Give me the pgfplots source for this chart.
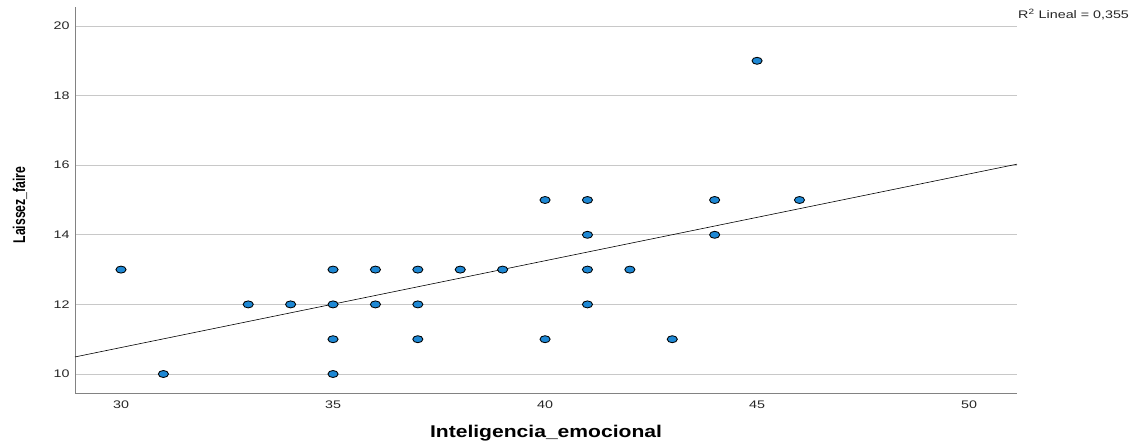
\documentclass[border=0pt]{standalone}
\usepackage{pgfplots}
\pgfplotsset{compat=1.18}
\usepackage{fontspec}
\setmainfont{Liberation Sans}
\definecolor{dotblue}{RGB}{30,136,212}
\definecolor{gridgray}{RGB}{200,200,200}
\definecolor{axgray}{RGB}{130,130,130}
\begin{document}
\begin{tikzpicture}
\useasboundingbox (0,0) rectangle (1135pt,440pt);
\begin{axis}[
  at={(75pt,47pt)}, anchor=south west,
  scale only axis, width=942pt, height=386pt,
  xmin=28.915, xmax=51.13, ymin=9.454, ymax=20.546,
  axis x line*=bottom, axis y line*=left,
  axis line style={axgray, line width=0.9pt},
  xtick={30,35,40,45,50}, ytick={10,12,14,16,18,20},
  major tick length=0pt,
  ymajorgrids, grid style={gridgray, line width=0.8pt},
  tick label style={font=\fontsize{11}{13}\selectfont, text=black!85},
  /pgf/number format/assume math mode=true,
  xticklabel={\scalebox{1.3}[1]{\pgfmathprintnumber{\tick}}},
  yticklabel={\scalebox{1.3}[1]{\pgfmathprintnumber{\tick}}},
  xticklabel style={yshift=-4pt},
  yticklabel style={xshift=-2pt},
  xlabel={\scalebox{1.24}[1]{\fontsize{17}{19}\selectfont\bfseries Inteligencia\_emocional}},
  xlabel style={at={(axis description cs:0.5,0)}, anchor=center, yshift=-40pt},
  ylabel={\scalebox{0.72}[1]{\fontsize{17}{19}\selectfont\bfseries Laissez\_faire}},
  ylabel style={at={(axis description cs:-0.0584,0.487)}, anchor=center},
  clip=false,
]
\addplot[black, line width=0.6pt, forget plot] coordinates {(28.915,10.49) (51.13,16.03)};
\addplot[only marks, mark=*, mark options={fill=dotblue, draw=black, line width=0.85pt, xscale=1.45, scale=1.0}, mark size=3.5pt] coordinates {
(30,13) (31,10) (33,12) (34,12) (35,13) (35,12) (35,11) (35,10)
(36,13) (36,12) (37,13) (37,12) (37,11) (38,13) (39,13)
(40,15) (40,11) (41,15) (41,14) (41,13) (41,12) (42,13) (43,11)
(44,15) (44,14) (45,19) (46,15)
};
\end{axis}
\node[anchor=west, inner sep=0pt, font=\fontsize{11}{13}\selectfont, text=black!85] at (1018pt,425pt) {\scalebox{1.3}[1]{R\textsuperscript{2} Lineal = 0,355}};
\end{tikzpicture}
\end{document}
